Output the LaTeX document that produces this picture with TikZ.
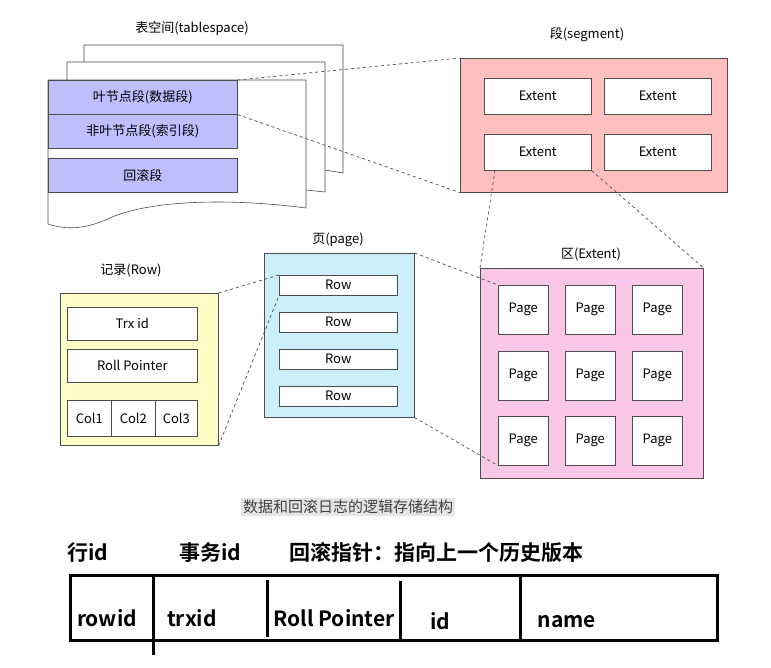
\documentclass[tikz,border=0pt]{standalone}
\usepackage{fontspec}
\setmainfont{Noto Sans CJK SC}[BoldFont={Noto Sans CJK SC Bold}]
\begin{document}
\begin{tikzpicture}[x=1pt,y=-1pt,
  lbl/.style={font=\fontsize{13}{15}\selectfont},
  box/.style={draw=black!70,line width=0.6pt},
  cell/.style={box,fill=white,font=\fontsize{13}{15}\selectfont},
  dsh/.style={dashed,draw=black!70,line width=0.7pt},
  big/.style={font=\bfseries\fontsize{21}{24}\selectfont},
  thick3/.style={line width=3pt}]
\useasboundingbox (0,0) rectangle (771,667);
\fill[white] (0,0) rectangle (771,667);
% tablespace pages
\node[lbl] (tst) at (192,28) {表空间(tablespace)};
\draw[box,fill=white] (84,62) -- (84,45) -- (343,45) -- (343,173) -- (325,170);
\draw[box,fill=white] (67,80) -- (67,62) -- (325,62) -- (325,192) -- (306,190);
\draw[box,fill=white] (48,80) -- (306,80) -- (306,208) .. controls (230,198) and (150,200) .. (110,218) .. controls (80,232) and (60,228) .. (48,224) -- cycle;
\node[box,fill=blue!25!white,minimum width=189pt,minimum height=34pt,lbl,anchor=north west,inner sep=0] (leaf) at (48,80) {叶节点段(数据段)};
\node[box,fill=blue!25!white,minimum width=189pt,minimum height=34pt,lbl,anchor=north west,inner sep=0] (nonleaf) at (48,114) {非叶节点段(索引段)};
\node[box,fill=blue!25!white,minimum width=189pt,minimum height=34pt,lbl,anchor=north west,inner sep=0] (roll) at (48,158) {回滚段};
% segment
\node[lbl] (segt) at (587,35) {段(segment)};
\node[box,fill=red!25!white,minimum width=267pt,minimum height=134pt,anchor=north west,inner sep=0] (seg) at (460,58) {};
\foreach \n/\x/\y in {e1/484/78,e2/604/78,e3/484/134,e4/604/134}
  \node[cell,minimum width=107pt,minimum height=36pt,anchor=north west,inner sep=0] (\n) at (\x,\y) {Extent};
\draw[dsh] (leaf.north east) -- (seg.north west);
\draw[dsh] (leaf.south east) -- (seg.south west);
% extent
\node[lbl] (ext) at (591,254) {区(Extent)};
\node[box,fill=magenta!22!white,minimum width=223pt,minimum height=210pt,anchor=north west,inner sep=0] (exb) at (480,268) {};
\foreach \x [count=\i] in {498,565,632}
  \foreach \y [count=\j] in {285,351,416}
    \node[cell,minimum width=50pt,minimum height=49pt,anchor=north west,inner sep=0] (p\i\j) at (\x,\y) {Page};
\coordinate (e3a) at (495,170);
\draw[dsh] (e3a) -- (exb.north west);
\draw[dsh] (e3.south east) -- (exb.north east);
% page
\node[lbl] (pgt) at (338,240) {页(page)};
\node[box,fill=cyan!20!white,minimum width=150pt,minimum height=164pt,anchor=north west,inner sep=0] (pg) at (264,253) {};
\foreach \y [count=\i] in {275,312,349,386}
  \node[cell,minimum width=118pt,minimum height=20pt,anchor=north west,inner sep=0] (r\i) at (279,\y) {Row};
\draw[dsh] (pg.north east) -- (p11.north west);
\draw[dsh] (pg.south east) -- (p13.south west);
% row
\node[lbl] (rwt) at (131,270) {记录(Row)};
\node[box,fill=yellow!22!white,minimum width=158pt,minimum height=152pt,anchor=north west,inner sep=0] (rw) at (60,293) {};
\node[cell,minimum width=130pt,minimum height=33pt,anchor=north west,inner sep=0] (trx) at (67,307) {Trx id};
\node[cell,minimum width=130pt,minimum height=33pt,anchor=north west,inner sep=0] (rp) at (67,349) {Roll Pointer};
\node[cell,minimum width=44pt,minimum height=36pt,anchor=north west,inner sep=0] (c1) at (67,400) {Col1};
\node[cell,minimum width=44pt,minimum height=36pt,anchor=north west,inner sep=0] (c2) at (111,400) {Col2};
\node[cell,minimum width=42pt,minimum height=36pt,anchor=north west,inner sep=0] (c3) at (155,400) {Col3};
\draw[dsh] (rw.north east) -- (r1.north west);
\draw[dsh] (rw.south east) -- (r1.south west);
% caption
\node[fill=black!10,font=\fontsize{15}{17}\selectfont,text=black!75,inner sep=2pt] (cap) at (348,507) {数据和回滚日志的逻辑存储结构};
% bottom table
\node[big,anchor=west] (l1) at (64,553) {行id};
\node[big,anchor=west] (l2) at (176,553) {事务id};
\node[big,anchor=west] (l3) at (286,553) {回滚指针：指向上一个历史版本};
\draw[thick3] (70,575) rectangle (717,640);
\draw[thick3] (153,575) -- (153,655);
\draw[thick3] (267,580) -- (267,637);
\draw[thick3] (400,581) -- (400,640);
\draw[thick3] (520,575) -- (520,640);
\node[big] (t1) at (107,618) {rowid};
\node[big] (t2) at (192,618) {trxid};
\node[big] (t3) at (334,618) {Roll Pointer};
\node[big] (t4) at (440,621) {id};
\node[big] (t5) at (567,622) {name};
\end{tikzpicture}
\end{document}
